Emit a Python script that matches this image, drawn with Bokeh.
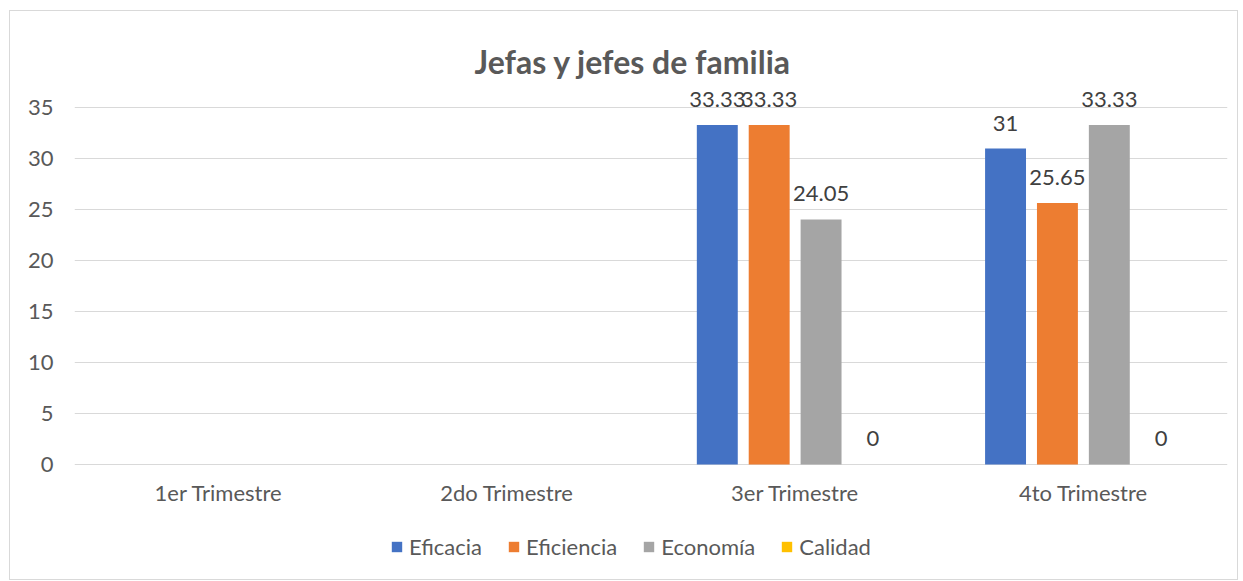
from bokeh.plotting import figure
from bokeh.models import ColumnDataSource, LabelSet, Legend, LegendItem, FactorRange
from bokeh.core.properties import value
from bokeh.transform import dodge
from bokeh.embed import file_html
from bokeh.resources import INLINE

categories = ["1er Trimestre", "2do Trimestre", "3er Trimestre", "4to Trimestre"]
series_names = ["Eficacia", "Eficiencia", "Economía", "Calidad"]
eficacia = [None, None, 33.33, 31]
eficiencia = [None, None, 33.33, 25.65]
economia = [None, None, 24.05, 33.33]
calidad = [None, None, 0, 0]
y_ticks = [0, 5, 10, 15, 20, 25, 30, 35]
colors = ["#4472C4", "#ED7D31", "#A5A5A5", "#FFC000"]

FONT = "Lato"
p = figure(x_range=FactorRange(*categories), y_range=(-11.2, 37),
           width=1227, height=568, frame_width=1153, frame_height=491,
           output_backend="svg", toolbar_location=None,
           min_border_left=64, min_border_right=10, min_border_top=76, min_border_bottom=1)
p.outline_line_color = None
p.border_fill_color = "white"
p.styles = {"border": "1px solid #d9d9d9", "margin-left": "9px", "margin-top": "10px"}

p.title.text = "Jefas y jefes de familia"
p.title.align = "left"
p.title.offset = 400
p.title.text_font = FONT
p.title.text_font_size = "32px"
p.title.text_font_style = "bold"
p.title.text_color = "#595959"
p.title.standoff = 14

offsets = [-0.27, -0.09, 0.09, 0.27]
items = []
for name, vals, col, off in zip(series_names, [eficacia, eficiencia, economia, calidad], colors, offsets):
    xs = [c for c, v in zip(categories, vals) if v is not None]
    ys = [v for v in vals if v is not None]
    labels = [("%g" % v) for v in ys]
    src = ColumnDataSource(dict(x=xs, y=ys, lab=labels))
    r = p.vbar(x=dodge("x", off, range=p.x_range), top="y", width=0.142, source=src,
               fill_color=col, line_color=None)
    items.append(LegendItem(label=name, renderers=[r]))
    ls = LabelSet(x=dodge("x", off, range=p.x_range), y="y", text="lab", source=src,
                  text_align="center", text_baseline="alphabetic", y_offset=18,
                  text_font=value(FONT), text_font_size="22px", text_color="#404040")
    p.add_layout(ls)

p.xgrid.grid_line_color = None
p.ygrid.grid_line_color = "#d9d9d9"
p.ygrid.grid_line_width = 1
p.yaxis.ticker = y_ticks
p.xaxis.fixed_location = 0
for ax in (p.xaxis, p.yaxis):
    ax.axis_line_color = None
    ax.major_tick_line_color = None
    ax.minor_tick_line_color = None
    ax.major_label_text_font = FONT
    ax.major_label_text_font_size = "22px"
    ax.major_label_text_color = "#595959"
p.yaxis.major_label_standoff = 15
p.xaxis.major_label_standoff = 9

legend = Legend(items=items, orientation="horizontal", location=(316, 18),
                glyph_width=13, glyph_height=13, label_text_font=FONT,
                label_text_font_size="22px", label_text_color="#595959",
                spacing=25, border_line_color=None, background_fill_alpha=0,
                padding=4, margin=0, label_standoff=6)
p.add_layout(legend, "center")

open("out.html", "w").write(file_html(p, INLINE))
